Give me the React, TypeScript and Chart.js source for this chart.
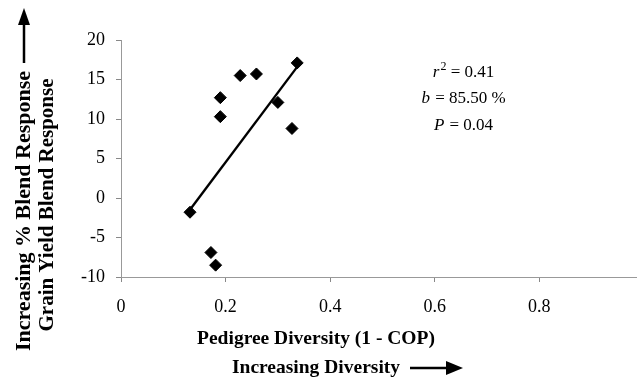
import React, { useEffect, useRef } from "react";
import { Chart, registerables } from "chart.js";

Chart.register(...registerables);

const diversity = [0.132, 0.19, 0.19, 0.228, 0.259, 0.3, 0.327, 0.337, 0.172, 0.181];
const blendResponse = [-1.8, 12.7, 10.3, 15.5, 15.7, 12.1, 8.8, 17.1, -6.9, -8.5];
const trendX = [0.134, 0.337];
const trendY = [-1.3, 16.6];
const xTickValues = [0, 0.2, 0.4, 0.6, 0.8];
const yTickValues = [-10, -5, 0, 5, 10, 15, 20];
const statLines = [
  { italic: "r", sup: "2", rest: " = 0.41" },
  { italic: "b", sup: "", rest: " = 85.50 %" },
  { italic: "P", sup: "", rest: " = 0.04" },
];
const yTitle1 = "Increasing % Blend Response";
const yTitle2 = "Grain Yield Blend Response";
const xTitle1 = "Pedigree Diversity (1 - COP)";
const xTitle2 = "Increasing Diversity";

const SERIF = "'Liberation Serif', 'DejaVu Serif', serif";

const decorPlugin = {
  id: "decor",
  afterDraw(chart: any) {
    const ctx = chart.ctx as CanvasRenderingContext2D;
    ctx.save();
    ctx.fillStyle = "#000";
    ctx.strokeStyle = "#000";
    ctx.textAlign = "center";
    ctx.textBaseline = "middle";
    // y titles (rotated)
    ctx.save();
    ctx.font = `bold 22px ${SERIF}`;
    ctx.translate(24, 211);
    ctx.rotate(-Math.PI / 2);
    ctx.fillText(yTitle1, 0, 0);
    ctx.restore();
    ctx.save();
    ctx.font = `bold 21px ${SERIF}`;
    ctx.translate(48, 205);
    ctx.rotate(-Math.PI / 2);
    ctx.fillText(yTitle2, 0, 0);
    ctx.restore();
    // up arrow
    ctx.lineWidth = 2.5;
    ctx.beginPath();
    ctx.moveTo(24, 63);
    ctx.lineTo(24, 22);
    ctx.stroke();
    ctx.beginPath();
    ctx.moveTo(24, 8);
    ctx.lineTo(18, 25);
    ctx.lineTo(30, 25);
    ctx.closePath();
    ctx.fill();
    // x titles
    ctx.font = `bold 19.5px ${SERIF}`;
    ctx.fillText(xTitle1, 316, 339);
    ctx.fillText(xTitle2, 316, 368);
    ctx.lineWidth = 2.5;
    ctx.beginPath();
    ctx.moveTo(410, 368);
    ctx.lineTo(448, 368);
    ctx.stroke();
    ctx.beginPath();
    ctx.moveTo(463, 368);
    ctx.lineTo(446, 361);
    ctx.lineTo(446, 375);
    ctx.closePath();
    ctx.fill();
    // stats
    const ys = [73, 99, 126];
    statLines.forEach((s, i) => {
      const it = `italic 17px ${SERIF}`;
      const nm = `17px ${SERIF}`;
      const sp = `12px ${SERIF}`;
      ctx.font = it;
      const w1 = ctx.measureText(s.italic).width;
      ctx.font = sp;
      const w2 = s.sup ? ctx.measureText(s.sup).width : 0;
      ctx.font = nm;
      const w3 = ctx.measureText(s.rest).width;
      let x = 463 - (w1 + w2 + w3) / 2;
      ctx.textAlign = "left";
      ctx.textBaseline = "middle";
      ctx.font = it;
      ctx.fillText(s.italic, x, ys[i]);
      x += w1 + 1;
      if (s.sup) {
        ctx.font = sp;
        ctx.fillText(s.sup, x, ys[i] - 6);
        x += w2;
      }
      ctx.font = nm;
      ctx.fillText(s.rest, x, ys[i]);
    });
    ctx.restore();
  },
};

export default function App() {
  const ref = useRef<HTMLCanvasElement | null>(null);
  useEffect(() => {
    document.body.style.margin = "0";
    const canvas = ref.current!;
    const chart = new Chart(canvas, {
      type: "scatter",
      data: {
        datasets: [
          {
            label: "Blend response",
            data: diversity.map((x, i) => ({ x, y: blendResponse[i] })),
            pointStyle: "rectRot",
            pointRadius: 6,
            backgroundColor: "#000",
            borderColor: "#000",
            showLine: false,
          },
          {
            label: "Trend",
            data: trendX.map((x, i) => ({ x, y: trendY[i] })),
            showLine: true,
            borderColor: "#000",
            borderWidth: 2.4,
            pointRadius: 0,
            fill: false,
          },
        ],
      },
      options: {
        animation: false,
        responsive: false,
        layout: { padding: { top: 40, left: 0, right: 0, bottom: 0 } },
        plugins: { legend: { display: false }, tooltip: { enabled: false } },
        scales: {
          x: {
            type: "linear",
            min: 0,
            max: 0.985,
            afterBuildTicks: (s: any) => {
              s.ticks = xTickValues.map((v) => ({ value: v }));
            },
            afterFit: (s: any) => {
              s.height = 104;
            },
            ticks: {
              color: "#000",
              font: { family: SERIF, size: 18 },
              padding: 14,
              maxRotation: 0,
              callback: (v: any) => String(v),
            },
            grid: { drawOnChartArea: false, drawTicks: true, tickLength: 5, color: "#888" },
            border: { color: "#999", width: 1 },
          },
          y: {
            type: "linear",
            min: -10,
            max: 20,
            afterBuildTicks: (s: any) => {
              s.ticks = yTickValues.map((v) => ({ value: v }));
            },
            afterFit: (s: any) => {
              s.width = 121;
            },
            ticks: {
              color: "#000",
              font: { family: SERIF, size: 18 },
              padding: 11,
              callback: (v: any) => String(v),
            },
            grid: { drawOnChartArea: false, drawTicks: true, tickLength: 5, color: "#888" },
            border: { color: "#999", width: 1, dash: [3, 2] },
          },
        },
      },
      plugins: [decorPlugin],
    } as any);
    return () => chart.destroy();
  }, []);
  return (
    <div style={{ width: 643, height: 381 }}>
      <canvas ref={ref} width={643} height={381} style={{ width: 643, height: 381 }} />
    </div>
  );
}
